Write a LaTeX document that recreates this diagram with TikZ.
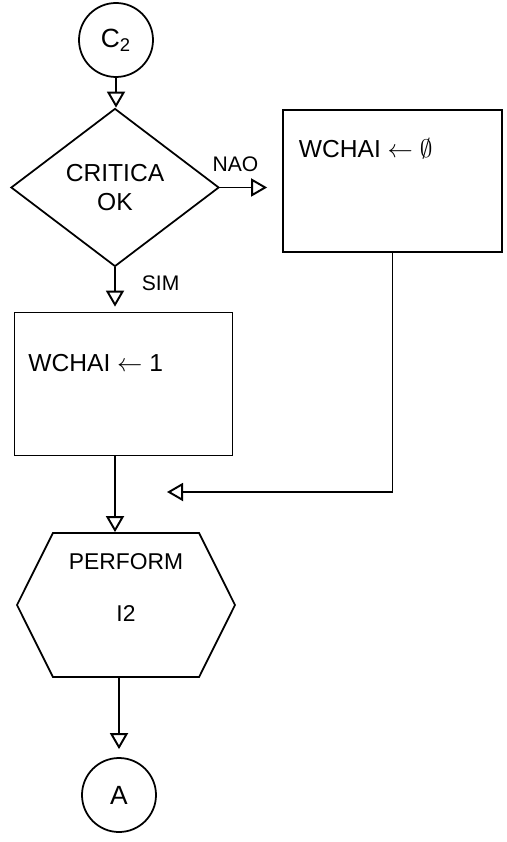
\documentclass[tikz,border=0pt]{standalone}
\usepackage{fontspec}
\setmainfont{Liberation Sans}
\usetikzlibrary{arrows.meta, positioning, shapes.geometric, shapes.symbols}

\begin{document}
\begin{tikzpicture}[
  line width=1pt,
  conn/.style={draw, line width=1.1pt,
    -{Triangle[open, length=0.32cm, width=0.36cm]}},
  term/.style={circle, draw, minimum size=1.48cm, inner sep=0pt,
    font=\fontsize{15}{17}\selectfont},
  decis/.style={diamond, draw, aspect=1.32, minimum width=4.16cm,
    minimum height=3.16cm, inner sep=0pt, align=center,
    font=\fontsize{14}{17}\selectfont},
  proc/.style={rectangle, draw, minimum width=4.36cm,
    minimum height=2.86cm, inner sep=0pt},
  subr/.style={signal, signal to=west and east, signal pointer angle=127,
    draw, minimum width=4.36cm, minimum height=2.88cm, inner sep=0pt},
  txt/.style={font=\fontsize{14}{16}\selectfont},
  lbl/.style={font=\fontsize{12}{14}\selectfont},
]
\useasboundingbox (0,0) rectangle (10.14,-16.84);

%% ── Entry and decision ──────────────────────────────────────────────────────
\node[term]  (c2)  at (2.32, -0.80) {C\textsubscript{2}};
\node[decis] (dec) at (2.30, -3.75) {CRITICA\\OK};

%% ── Assignment boxes ────────────────────────────────────────────────────────
\node[proc, minimum width=4.38cm, minimum height=2.84cm,
      label={[txt, anchor=west, xshift=0.2cm, yshift=-0.8cm]north west:WCHAI $\leftarrow$ $\emptyset$}]
  (nao) at (7.85, -3.62) {};
\node[proc,
      label={[txt, anchor=west, xshift=0.16cm, yshift=-1.02cm]north west:WCHAI $\leftarrow$ 1}]
  (sim) at (2.47, -7.68) {};

%% ── Subroutine and exit ─────────────────────────────────────────────────────
\node[subr,
      label={[font=\fontsize{13}{15}\selectfont, align=center, yshift=0.35cm]center:PERFORM\\[0.5cm]I2}]
  (perf) at (2.52, -12.10) {};
\node[term]  (a)   at (2.38, -15.90) {A};
\coordinate  (join) at (3.34, -9.84);

%% ── Flow lines ──────────────────────────────────────────────────────────────
\draw[conn] (c2.south) -- (c2.south |- dec.north);
\draw[conn, shorten >=0.3cm] (dec.east) -- (dec.east -| nao.west)
  node[lbl, pos=0.25, above=0.18cm] {NAO};
\draw[conn, shorten >=0.1cm] (dec.south) -- (dec.south |- sim.north)
  node[lbl, pos=0.35, right=0.4cm] {SIM};
\draw[conn] (sim.south -| dec.south) -- (perf.north -| dec.south);
\draw[conn] (nao.south) |- (join);
\draw[conn, shorten >=0.16cm] (perf.south -| a.north) -- (a.north);

\end{tikzpicture}
\end{document}
